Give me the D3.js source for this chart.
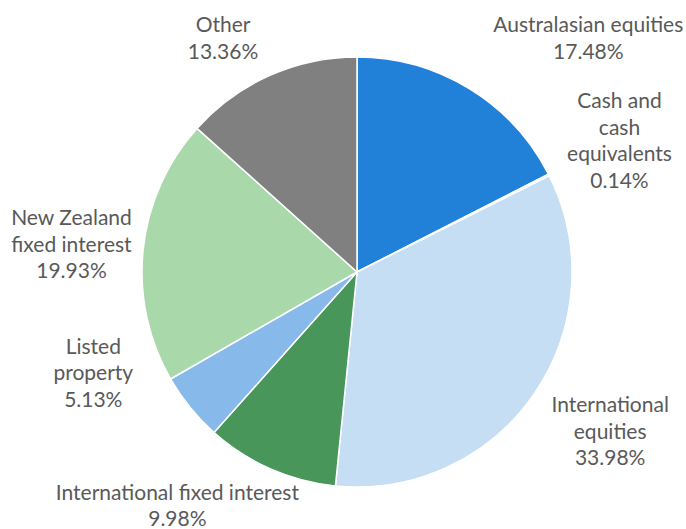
<!DOCTYPE html>
<html>
<head>
<meta charset="utf-8">
<script src="https://cdn.jsdelivr.net/npm/d3@7"></script>
<style>
  html, body { margin: 0; padding: 0; background: #fff; }
  svg { display: block; }
</style>
</head>
<body>
<div id="root"></div>
<script>
const categories = [
  ['Australasian equities'],
  ['Cash and', 'cash', 'equivalents'],
  ['International', 'equities'],
  ['International fixed interest'],
  ['Listed', 'property'],
  ['New Zealand', 'fixed interest'],
  ['Other'],
];
const shares = [17.48, 0.14, 33.98, 9.98, 5.13, 19.93, 13.36];
const sliceColors = ['#2181d9', '#dbe9f6', '#c5def4', '#48965a', '#87b9ea', '#a9d8aa', '#808080'];
// nudges from the label arc centroid, in px
const labelNudge = [[93, -8], [26, -12], [35, 9], [-73, -9], [-58, -66], [-22, 0], [-26, 8]];

function drawPie() {
  const dimensions = { width: 686, height: 529 };
  const cx = 357;
  const cy = 272;
  const radius = 215;

  const data = shares.map((d, i) => ({
    value: d,
    lines: categories[i],
    color: sliceColors[i],
    nudge: labelNudge[i],
  }));

  const pie = d3.pie().sort(null).value(d => d.value);
  const arcs = pie(data);

  const arc = d3.arc().innerRadius(0).outerRadius(radius);
  const labelArc = d3.arc().innerRadius(265).outerRadius(265);

  const wrapper = d3
    .select('#root')
    .append('svg')
    .attr('width', dimensions.width)
    .attr('height', dimensions.height);

  const bounds = wrapper.append('g').attr('transform', `translate(${cx}, ${cy})`);

  bounds
    .selectAll('path')
    .data(arcs)
    .join('path')
    .attr('d', arc)
    .attr('fill', d => d.data.color)
    .attr('stroke', '#fff')
    .attr('stroke-width', 1.5)
    .attr('stroke-linejoin', 'round');

  const lineHeight = 26.5;
  const format = d3.format('.2f');

  const labels = bounds
    .selectAll('text.label')
    .data(arcs)
    .join('text')
    .attr('class', 'label')
    .attr('font-family', 'Lato, "Open Sans", sans-serif')
    .attr('font-size', 21)
    .attr('fill', '#595959')
    .attr('text-anchor', 'middle')
    .attr('transform', d => {
      const [x, y] = labelArc.centroid(d);
      return `translate(${x + d.data.nudge[0]}, ${y + d.data.nudge[1]})`;
    });

  labels.each(function (d) {
    const lines = d.data.lines.concat(format(d.data.value) + '%');
    const n = lines.length;
    d3.select(this)
      .selectAll('tspan')
      .data(lines)
      .join('tspan')
      .attr('x', 0)
      .attr('y', (t, i) => (i - (n - 1) / 2) * lineHeight)
      .attr('dy', '0.35em')
      .text(t => t);
  });
}

drawPie();
</script>
</body>
</html>
